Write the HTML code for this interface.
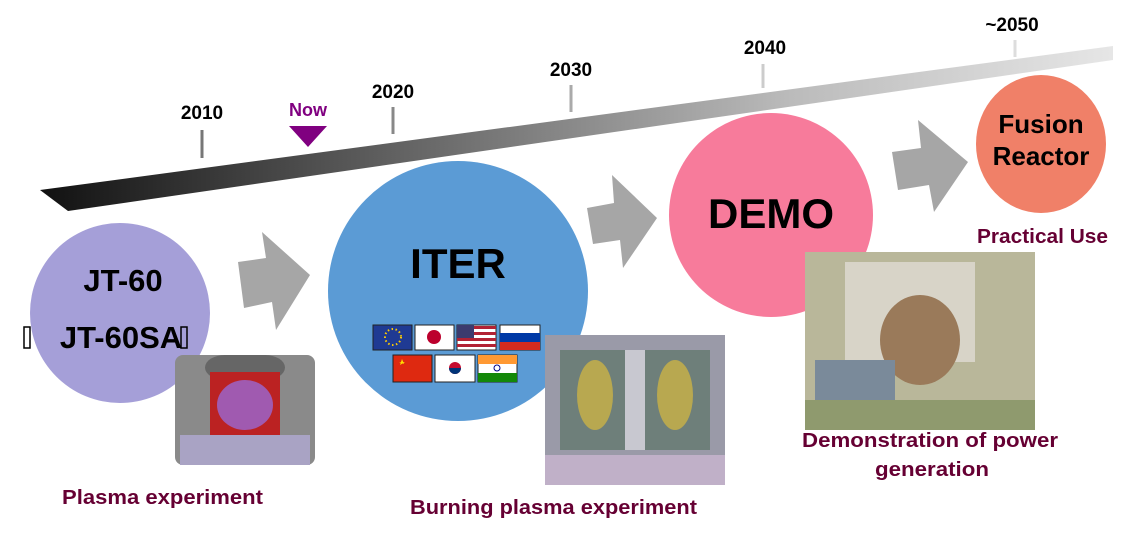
<!DOCTYPE html>
<html><head><meta charset="utf-8"><style>
html,body{margin:0;padding:0;background:#fff;}
svg{display:block;}
text{font-family:"Liberation Sans",sans-serif;font-weight:bold;}
</style></head><body>
<svg width="1123" height="540" viewBox="0 0 1123 540" xmlns="http://www.w3.org/2000/svg">
<defs>
<linearGradient id="tl" x1="0" y1="0" x2="1" y2="0">
<stop offset="0" stop-color="#111"/><stop offset="0.35" stop-color="#666"/><stop offset="0.7" stop-color="#bbb"/><stop offset="1" stop-color="#e6e6e6"/>
</linearGradient>
</defs>
<polygon points="40,190 1113,46 1113,60 68,211" fill="url(#tl)"/>
<g stroke-width="3">
<line x1="202" y1="130" x2="202" y2="158" stroke="#777"/>
<line x1="393" y1="107" x2="393" y2="134" stroke="#888"/>
<line x1="571" y1="85" x2="571" y2="112" stroke="#aaa"/>
<line x1="763" y1="64" x2="763" y2="88" stroke="#ccc"/>
<line x1="1015" y1="40" x2="1015" y2="57" stroke="#ddd"/>
</g>
<polygon points="289,126 327,126 308,147" fill="#800080"/>
<g font-size="19" text-anchor="middle" fill="#000">
<text x="202" y="119">2010</text>
<text x="393" y="98">2020</text>
<text x="571" y="76">2030</text>
<text x="765" y="54">2040</text>
<text x="1012" y="31">~2050</text>
</g>
<text x="308" y="116" font-size="18" text-anchor="middle" fill="#800080">Now</text>
<g fill="#a6a6a6">
<polygon points="238,262 266,258 262,232 310,275 276,330 272,302 244,308"/>
<polygon points="587,208 614,203 612,175 657,218 623,268 620,240 593,244"/>
<polygon points="892,152 921,148 918,120 968,162 934,212 929,185 898,190"/>
</g>
<circle cx="120" cy="313" r="90" fill="#a59fd8"/>
<circle cx="458" cy="291" r="130" fill="#5b9bd5"/>
<circle cx="771" cy="215" r="102" fill="#f77b9b"/>
<ellipse cx="1041" cy="144" rx="65" ry="69" fill="#f08068"/>
<g>
<rect x="175" y="355" width="140" height="110" rx="8" fill="#8a8a8a"/>
<rect x="205" y="355" width="80" height="25" rx="20" fill="#666"/>
<rect x="210" y="372" width="70" height="65" fill="#b22"/>
<ellipse cx="245" cy="405" rx="28" ry="25" fill="#a05ab0"/>
<rect x="180" y="435" width="130" height="30" fill="#a9a3c4"/>
<rect x="545" y="335" width="180" height="150" fill="#9a9aa8"/>
<rect x="560" y="350" width="150" height="100" fill="#6e7f7a"/>
<ellipse cx="595" cy="395" rx="18" ry="35" fill="#b8a850"/>
<ellipse cx="675" cy="395" rx="18" ry="35" fill="#b8a850"/>
<rect x="625" y="350" width="20" height="100" fill="#c8c8d0"/>
<rect x="545" y="455" width="180" height="30" fill="#c0b0c8"/>
<rect x="805" y="252" width="230" height="178" fill="#b9b79a"/>
<rect x="845" y="262" width="130" height="100" fill="#d8d4c8"/>
<ellipse cx="920" cy="340" rx="40" ry="45" fill="#9a7a5a"/>
<rect x="815" y="360" width="80" height="40" fill="#7a8a9a"/>
<rect x="805" y="400" width="230" height="30" fill="#8f9a6e"/>
</g>
<g stroke="#222" stroke-width="1">
<rect x="373" y="325" width="39" height="25" fill="#1f3a93"/>
<rect x="415" y="325" width="39" height="25" fill="#fff"/>
<rect x="457" y="325" width="39" height="25" fill="#fff"/>
<rect x="500" y="325" width="40" height="25" fill="#fff"/>
<rect x="393" y="355" width="39" height="27" fill="#de2910"/>
<rect x="435" y="355" width="40" height="27" fill="#fff"/>
<rect x="478" y="355" width="39" height="27" fill="#fff"/>
</g>
<circle cx="393" cy="337" r="8" fill="none" stroke="#fc0" stroke-dasharray="1.5 2.5" stroke-width="2"/>
<circle cx="434" cy="337" r="7" fill="#bc002d"/>
<g fill="#b22234"><rect x="457" y="326" width="39" height="3"/><rect x="457" y="332" width="39" height="3"/><rect x="457" y="338" width="39" height="3"/><rect x="457" y="344" width="39" height="3"/></g>
<rect x="457" y="325" width="17" height="13" fill="#3c3b6e"/>
<rect x="500" y="333" width="40" height="9" fill="#0039a6"/><rect x="500" y="342" width="40" height="8" fill="#d52b1e"/>
<polygon points="402,359 404,364 399,362 405,362 400,365" fill="#ffde00"/>
<circle cx="455" cy="368" r="6" fill="#c60c30"/><path d="M449,368 a6,6 0 0 0 12,0z" fill="#003478"/>
<rect x="478" y="355" width="39" height="9" fill="#f93"/><rect x="478" y="373" width="39" height="9" fill="#138808"/>
<circle cx="497" cy="368" r="3" fill="none" stroke="#008" stroke-width="1"/>
<text x="123" y="291" font-size="31" text-anchor="middle" fill="#000">JT-60</text>
<text x="121" y="348" font-size="31" text-anchor="middle" fill="#000">JT-60SA</text>
<rect x="24" y="327" width="6" height="21" fill="none" stroke="#000" stroke-width="1.5"/>
<rect x="181" y="327" width="6" height="21" fill="none" stroke="#000" stroke-width="1.5"/>
<text x="458" y="278" font-size="42" text-anchor="middle" fill="#000">ITER</text>
<text x="771" y="228" font-size="42" text-anchor="middle" fill="#000">DEMO</text>
<text x="1041" y="133" font-size="26" text-anchor="middle" fill="#000">Fusion</text>
<text x="1041" y="165" font-size="26" text-anchor="middle" fill="#000">Reactor</text>
<g fill="#660033" font-size="20">
<text x="62" y="504" textLength="201" lengthAdjust="spacingAndGlyphs">Plasma experiment</text>
<text x="410" y="514" textLength="287" lengthAdjust="spacingAndGlyphs">Burning plasma experiment</text>
<text x="802" y="447" textLength="256" lengthAdjust="spacingAndGlyphs">Demonstration of power</text>
<text x="875" y="476" textLength="114" lengthAdjust="spacingAndGlyphs">generation</text>
<text x="977" y="243" textLength="131" lengthAdjust="spacingAndGlyphs">Practical Use</text>
</g>
</svg>
</body></html>
